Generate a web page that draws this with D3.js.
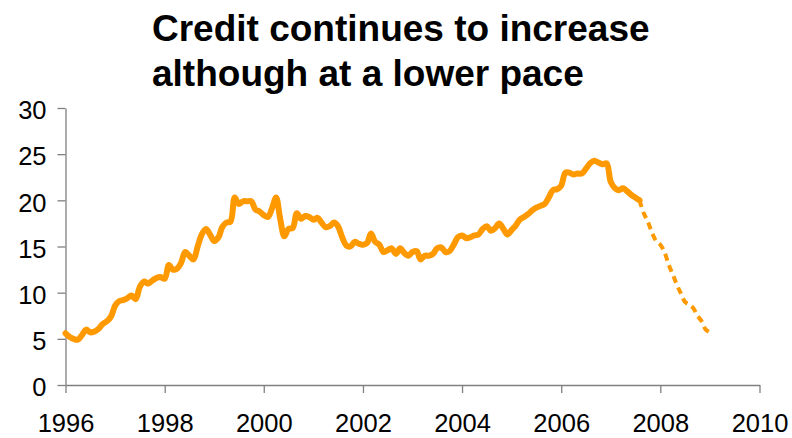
<!DOCTYPE html>
<html>
<head>
<meta charset="utf-8">
<script src="https://cdn.jsdelivr.net/npm/d3@7/dist/d3.min.js"></script>
<style>
  html, body { margin: 0; padding: 0; background: #fff; }
  svg { display: block; font-family: "Liberation Sans", Arial, sans-serif; }
</style>
</head>
<body>
<svg id="chart" width="792" height="438"></svg>
<script>
// Annual credit growth (%), monthly observations starting January 1996
const startYear = 1996;
const creditGrowth = [
  5.6, 5.2, 5.0, 4.9, 5.4, 6.0, 5.7, 5.8, 6.1, 6.6, 6.9, 7.4,
  8.6, 9.1, 9.2, 9.4, 9.7, 9.3, 10.6, 11.2, 11.0, 11.3, 11.6, 11.7,
  11.5, 13.0, 12.5, 12.6, 13.2, 14.4, 14.0, 13.6, 15.0, 16.3, 16.9, 16.3,
  15.6, 16.0, 17.1, 17.6, 17.7, 20.3, 19.6, 19.9, 19.9, 19.9, 19.0, 18.8,
  18.4, 18.2, 19.1, 20.3, 18.0, 16.1, 16.9, 17.0, 18.6, 18.0, 18.3, 18.2,
  17.9, 18.1, 17.6, 17.1, 17.2, 17.6, 17.2, 16.0, 15.1, 15.0, 15.5, 15.3,
  15.2, 15.4, 16.4, 15.5, 15.2, 14.4, 14.6, 14.8, 14.2, 14.8, 14.3, 14.0,
  14.4, 14.5, 13.6, 14.0, 14.0, 14.2, 14.8, 14.9, 14.4, 14.5, 15.2, 16.0,
  16.2, 15.9, 16.0, 16.2, 16.3, 16.9, 17.2, 16.7, 17.0, 17.5, 16.9, 16.3,
  16.8, 17.3, 17.9, 18.2, 18.5, 18.9, 19.2, 19.4, 19.6, 20.3, 21.1, 21.2,
  21.6, 23.0, 23.0, 22.8, 22.9, 22.9, 23.4, 24.0, 24.3, 24.1, 23.9, 24.0,
  22.0, 21.3, 21.1, 21.3, 21.0, 20.6, 20.3, 20.0, 18.6, 17.7, 16.5, 15.6,
  15.2, 14.4, 13.1, 12.0, 10.9, 9.9, 9.0, 8.7, 8.3, 7.5, 6.9, 6.0,
  5.7
];
// Index of the last observed month; later months are projections (dashed)
const lastObserved = 139;

const yearTicks = [1996, 1998, 2000, 2002, 2004, 2006, 2008, 2010];
const valueTicks = [0, 5, 10, 15, 20, 25, 30];
const titleLines = ["Credit continues to increase", "although at a lower pace"];

const svg = d3.select("#chart");
const axisColor = "#808080";
const lineColor = "#FF9900";

const x = d3.scaleTime()
  .domain([new Date(1996, 0, 1), new Date(2010, 0, 1)])
  .range([65.5, 759.5]);
const y = d3.scaleLinear().domain([0, 30]).range([385, 108]);

const points = creditGrowth.map((v, i) => ({ date: new Date(startYear, i, 1), value: v }));

// Title
const title = svg.append("text")
  .attr("font-size", 37)
  .attr("font-weight", "bold")
  .attr("fill", "#000");
titleLines.forEach((t, i) => {
  title.append("tspan").attr("x", 152).attr("y", 41 + i * 45).text(t);
});

// Axes
const xAxis = svg.append("g")
  .attr("transform", `translate(0,${y(0)})`)
  .call(d3.axisBottom(x)
    .tickValues(yearTicks.map(yr => new Date(yr, 0, 1)))
    .tickFormat(d3.timeFormat("%Y"))
    .tickSize(8)
    .tickPadding(21)
    .tickSizeOuter(0));

const yAxis = svg.append("g")
  .attr("transform", `translate(${x(new Date(1996, 0, 1))},0)`)
  .call(d3.axisLeft(y)
    .tickValues(valueTicks)
    .tickSize(8)
    .tickPadding(11)
    .tickSizeOuter(0));

[xAxis, yAxis].forEach(g => {
  g.selectAll("path, line").attr("stroke", axisColor).attr("stroke-width", 1.3);
  g.selectAll("text")
    .attr("fill", "#000")
    .attr("font-size", 25.5)
    .attr("font-family", "'Liberation Sans', Arial, sans-serif");
});
yAxis.selectAll("text").attr("dy", "0.42em");

// Credit growth line
const line = d3.line()
  .curve(d3.curveCatmullRom.alpha(0.5))
  .x(d => x(d.date))
  .y(d => y(d.value));

svg.append("path")
  .datum(points.slice(0, lastObserved + 1))
  .attr("d", line)
  .attr("fill", "none")
  .attr("stroke", lineColor)
  .attr("stroke-width", 6)
  .attr("stroke-linejoin", "round")
  .attr("stroke-linecap", "round");

svg.append("path")
  .datum(points.slice(lastObserved))
  .attr("d", line)
  .attr("fill", "none")
  .attr("stroke", lineColor)
  .attr("stroke-width", 4)
  .attr("stroke-dasharray", "7,5")
  .attr("stroke-linejoin", "round");
</script>
</body>
</html>
